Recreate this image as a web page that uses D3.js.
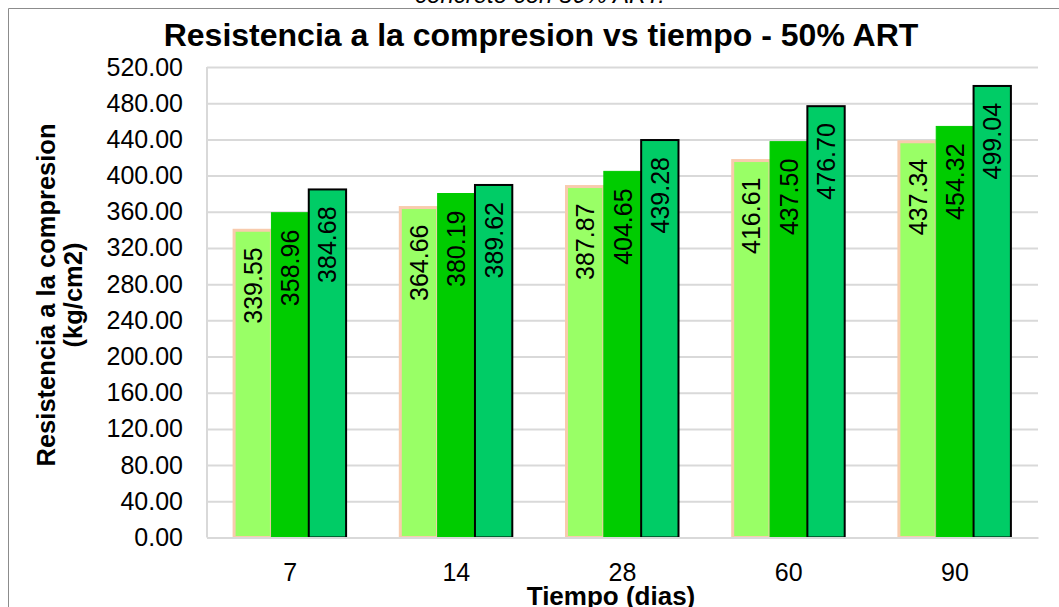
<!DOCTYPE html>
<html>
<head>
<meta charset="utf-8">
<script src="https://cdn.jsdelivr.net/npm/d3@7"></script>
<style>
  body { margin: 0; background: #fff; }
  text { font-family: Arial, "Liberation Sans", sans-serif; }
</style>
</head>
<body>
<svg width="1059" height="607"></svg>
<script>
const categories = ['7', '14', '28', '60', '90'];
const serie1 = [339.55, 364.66, 387.87, 416.61, 437.34];
const serie2 = [358.96, 380.19, 404.65, 437.50, 454.32];
const serie3 = [384.68, 389.62, 439.28, 476.70, 499.04];
const yTicks = d3.range(0, 521, 40);

const svg = d3.select('svg');

const margin = {top: 67, right: 21, bottom: 69.5, left: 207};
const innerWidth = 1059 - margin.left - margin.right;
const innerHeight = 607 - margin.top - margin.bottom;

const series = [
  {values: serie1, fill: '#99ff66', stroke: '#f8cbad', sw: 3},
  {values: serie2, fill: '#00cc00', stroke: '#00cc00', sw: 1},
  {values: serie3, fill: '#00cc66', stroke: '#000000', sw: 2}
];

// chart border (cut by the frame on the right and bottom)
svg.append('path')
  .attr('d', 'M8.5,620 V8.5 H1070')
  .attr('fill', 'none')
  .attr('stroke', '#8c8c8c')
  .attr('stroke-width', 1);

// caption above the chart, partially cut off
svg.append('text')
  .attr('x', 540)
  .attr('y', 3)
  .attr('text-anchor', 'middle')
  .attr('font-style', 'italic')
  .attr('font-size', 24)
  .text('concreto con 50% ART.');

svg.append('text')
  .attr('x', 541)
  .attr('y', 46)
  .attr('text-anchor', 'middle')
  .attr('font-weight', 'bold')
  .attr('font-size', 32)
  .text('Resistencia a la compresion vs tiempo - 50% ART');

const g = svg.append('g')
  .attr('transform', `translate(${margin.left}, ${margin.top})`);

const xScale = d3.scaleBand()
  .domain(categories)
  .range([0, innerWidth]);

const yScale = d3.scaleLinear()
  .domain([0, 520])
  .range([innerHeight, 0]);

// gridlines
g.append('g')
  .call(d3.axisLeft(yScale).tickValues(yTicks).tickSize(-innerWidth).tickFormat(''))
  .call(s => s.select('.domain').remove())
  .selectAll('.tick line')
  .attr('stroke', '#d9d9d9')
  .attr('stroke-width', 2);

// y axis labels
const yAxisG = g.append('g')
  .call(d3.axisLeft(yScale).tickValues(yTicks).tickSize(0).tickPadding(24).tickFormat(d3.format('.2f')));
yAxisG.select('.domain').remove();
yAxisG.selectAll('text')
  .attr('font-size', 25)
  .attr('fill', '#000')
  .style('font-family', 'Arial, "Liberation Sans", sans-serif');

// left axis line
g.append('line')
  .attr('x1', 0).attr('x2', 0)
  .attr('y1', 0).attr('y2', innerHeight)
  .attr('stroke', '#d9d9d9')
  .attr('stroke-width', 2);

// bars
const groupW = 112;
const barW = groupW / 3;
const offset = (xScale.bandwidth() - groupW) / 2;

series.forEach((s, i) => {
  const sg = g.append('g');
  sg.selectAll('rect').data(s.values)
    .enter().append('rect')
    .attr('x', (d, j) => xScale(categories[j]) + offset + i * barW)
    .attr('y', d => yScale(d))
    .attr('width', barW)
    .attr('height', d => innerHeight - yScale(d))
    .attr('fill', s.fill)
    .attr('stroke', s.stroke)
    .attr('stroke-width', s.sw);
});

series.forEach((s, i) => {
  g.append('g').selectAll('text').data(s.values)
    .enter().append('text')
    .attr('transform', (d, j) => {
      const cx = xScale(categories[j]) + offset + i * barW + barW / 2;
      return `translate(${cx}, ${yScale(d) + 17}) rotate(-90)`;
    })
    .attr('text-anchor', 'end')
    .attr('dominant-baseline', 'central')
    .attr('font-size', 25)
    .text(d => d.toFixed(2));
});

// bottom axis
const xAxisG = g.append('g')
  .attr('transform', `translate(0, ${innerHeight})`)
  .call(d3.axisBottom(xScale).tickSize(0).tickPadding(26));
xAxisG.select('.domain')
  .attr('stroke', '#d9d9d9')
  .attr('stroke-width', 2);
xAxisG.selectAll('text')
  .attr('font-size', 25)
  .attr('fill', '#000')
  .style('font-family', 'Arial, "Liberation Sans", sans-serif');

// axis titles
svg.append('text')
  .attr('x', 611)
  .attr('y', 605)
  .attr('text-anchor', 'middle')
  .attr('font-weight', 'bold')
  .attr('font-size', 26)
  .text('Tiempo (dias)');

const yTitle = svg.append('text')
  .attr('transform', 'translate(46, 295) rotate(-90)')
  .attr('text-anchor', 'middle')
  .attr('font-weight', 'bold')
  .attr('font-size', 25.5);
yTitle.append('tspan').attr('x', 0).attr('dy', '0.35em').text('Resistencia a la compresion');
yTitle.append('tspan').attr('x', 0).attr('dy', 27).text('(kg/cm2)');
</script>
</body>
</html>
